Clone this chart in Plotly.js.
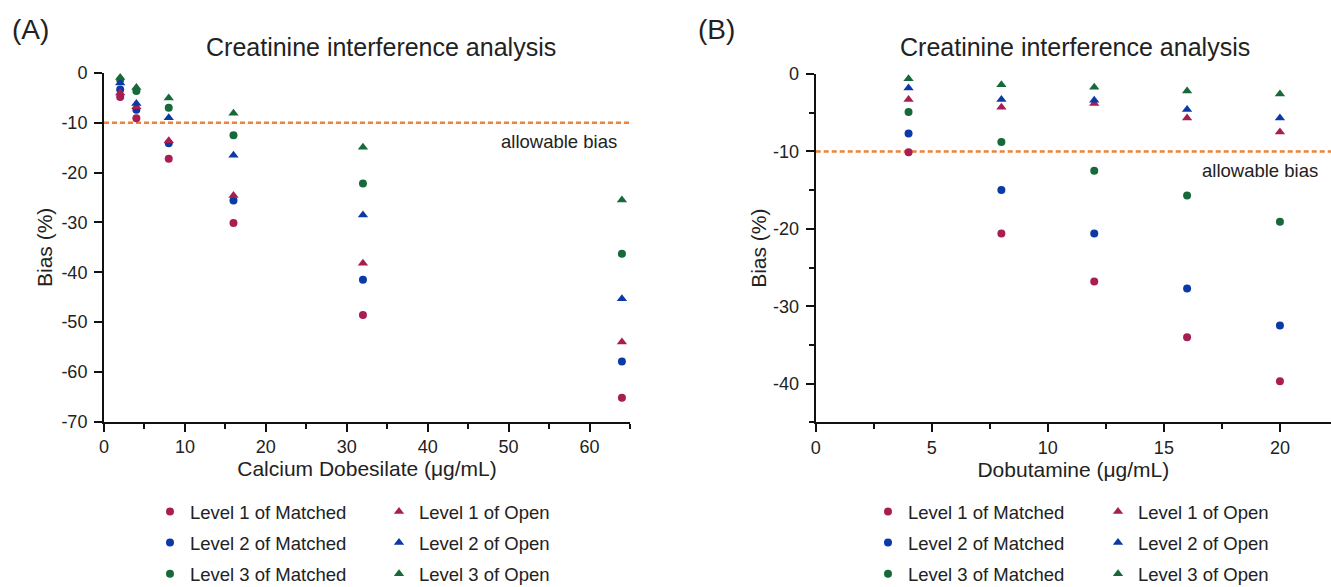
<!DOCTYPE html>
<html>
<head>
<meta charset="utf-8">
<script src="https://cdn.plot.ly/plotly-3.0.1.min.js"></script>
<style>
  html, body { margin: 0; padding: 0; background: #fff; }
  #chart { width: 1331px; height: 587px; }
</style>
</head>
<body>
<div id="chart"></div>
<script>
// ---- Data ----
const allowableBias = [-10];

// Panel A: Calcium Dobesilate (µg/mL)
const concA = [2, 4, 8, 16, 32, 64];
const aLevel1Matched = [-4.8, -9.1, -17.2, -30.1, -48.6, -65.2];
const aLevel2Matched = [-3.3, -7.4, -14.1, -25.6, -41.5, -57.9];
const aLevel3Matched = [-1.4, -3.6, -7.0, -12.5, -22.2, -36.3];
const aLevel1Open    = [-4.0, -6.8, -13.6, -24.6, -38.2, -54.0];
const aLevel2Open    = [-2.0, -6.1, -9.0, -16.5, -28.5, -45.3];
const aLevel3Open    = [-0.9, -2.9, -5.0, -8.1, -14.9, -25.5];

// Panel B: Dobutamine (µg/mL)
const concB = [4, 8, 12, 16, 20];
const bLevel1Matched = [-10.1, -20.6, -26.8, -34.0, -39.7];
const bLevel2Matched = [-7.7, -15.0, -20.6, -27.7, -32.5];
const bLevel3Matched = [-4.9, -8.8, -12.5, -15.7, -19.1];
const bLevel1Open    = [-3.3, -4.3, -3.8, -5.7, -7.5];
const bLevel2Open    = [-1.8, -3.3, -3.4, -4.6, -5.7];
const bLevel3Open    = [-0.6, -1.4, -1.7, -2.2, -2.6];

const seriesNames = ["Level 1 of Matched", "Level 2 of Matched", "Level 3 of Matched",
                     "Level 1 of Open", "Level 2 of Open", "Level 3 of Open"];

// Tick labels (hyphen-minus, as in the reference)
const yTickValsA = [0, -10, -20, -30, -40, -50, -60, -70];
const yTickTextA = ["0", "-10", "-20", "-30", "-40", "-50", "-60", "-70"];
const yTickValsB = [0, -10, -20, -30, -40];
const yTickTextB = ["0", "-10", "-20", "-30", "-40"];
const xTickValsA = [0, 10, 20, 30, 40, 50, 60];
const xTickTextA = ["0", "10", "20", "30", "40", "50", "60"];
const xTickValsB = [0, 5, 10, 15, 20];
const xTickTextB = ["0", "5", "10", "15", "20"];

// ---- Styles ----
const W = 1331, H = 587;
const FONT = '"Liberation Sans", Arial, Helvetica, sans-serif';
const INK = '#222222';
const colors = ['#A81E52', '#0B3AA6', '#17693A'];
const px = v => v / W;
const py = v => (H - v) / H;

function trace(x, y, name, color, symbol, xa, ya, legend, grp) {
  return {
    type: 'scatter', mode: 'markers', x: x, y: y, name: name,
    xaxis: xa, yaxis: ya, legend: legend, legendgroup: grp,
    cliponaxis: false,
    marker: { color: color, symbol: symbol, size: symbol === 'circle' ? 8 : 9, line: { width: 0 } },
    hoverinfo: 'x+y+name'
  };
}

const aMatched = [aLevel1Matched, aLevel2Matched, aLevel3Matched];
const aOpen = [aLevel1Open, aLevel2Open, aLevel3Open];
const bMatched = [bLevel1Matched, bLevel2Matched, bLevel3Matched];
const bOpen = [bLevel1Open, bLevel2Open, bLevel3Open];

const data = [];
for (let i = 0; i < 3; i++) data.push(trace(concA, aMatched[i], seriesNames[i], colors[i], 'circle', 'x', 'y', 'legend', 'am' + i));
for (let i = 0; i < 3; i++) data.push(trace(concA, aOpen[i], seriesNames[3 + i], colors[i], 'triangle-up', 'x', 'y', 'legend2', 'ao' + i));
for (let i = 0; i < 3; i++) data.push(trace(concB, bMatched[i], seriesNames[i], colors[i], 'circle', 'x2', 'y2', 'legend3', 'bm' + i));
for (let i = 0; i < 3; i++) data.push(trace(concB, bOpen[i], seriesNames[3 + i], colors[i], 'triangle-up', 'x2', 'y2', 'legend4', 'bo' + i));

function axis(extra) {
  return Object.assign({
    showline: true, linecolor: '#111', linewidth: 2, mirror: false,
    showgrid: false, zeroline: false,
    ticks: 'outside', ticklen: 8, tickwidth: 2, tickcolor: '#111',
    tickfont: { family: FONT, size: 18, color: INK },
    automargin: false, fixedrange: true
  }, extra);
}
const minorTick = d => ({ dtick: d, tick0: 0, ticks: 'outside', ticklen: 5, tickwidth: 2, tickcolor: '#111', showgrid: false });
const titleFont = { family: FONT, size: 21, color: INK };

const legendBase = {
  orientation: 'v', xanchor: 'left', yanchor: 'top',
  font: { family: FONT, size: 18.5, color: INK },
  bgcolor: 'rgba(0,0,0,0)', borderwidth: 0,
  tracegroupgap: 4, traceorder: 'grouped', itemclick: false, itemdoubleclick: false
};

const layout = {
  width: W, height: H,
  margin: { l: 0, r: 0, t: 0, b: 0, autoexpand: false },
  paper_bgcolor: '#fff', plot_bgcolor: '#fff',
  font: { family: FONT, color: INK },
  showlegend: true,
  xaxis: axis({
    domain: [px(104), px(630)], range: [0, 65], anchor: 'y',
    tickmode: 'array', tickvals: xTickValsA, ticktext: xTickTextA, ticklabelstandoff: 0,
    minor: minorTick(5),
    title: { text: 'Calcium Dobesilate (μg/mL)', font: titleFont, standoff: 4 }
  }),
  yaxis: axis({
    domain: [py(421.7), py(73)], range: [-70, 0], anchor: 'x',
    tickmode: 'array', tickvals: yTickValsA, ticktext: yTickTextA, ticklabelstandoff: 3,
    title: { text: 'Bias (%)', font: titleFont, standoff: 3 }
  }),
  xaxis2: axis({
    domain: [px(815.7), 1], range: [0, 22.2], anchor: 'y2',
    tickmode: 'array', tickvals: xTickValsB, ticktext: xTickTextB, ticklabelstandoff: 0,
    minor: minorTick(2.5),
    title: { text: 'Dobutamine (μg/mL)', font: titleFont, standoff: 4 }
  }),
  yaxis2: axis({
    domain: [py(422.3), py(74)], range: [-45, 0], anchor: 'x2',
    tickmode: 'array', tickvals: yTickValsB, ticktext: yTickTextB, ticklabelstandoff: 3,
    minor: minorTick(5),
    title: { text: 'Bias (%)', font: titleFont, standoff: 1 }
  }),
  legend:  Object.assign({}, legendBase, { x: px(150), y: py(493) }),
  legend2: Object.assign({}, legendBase, { x: px(379), y: py(493) }),
  legend3: Object.assign({}, legendBase, { x: px(868), y: py(493) }),
  legend4: Object.assign({}, legendBase, { x: px(1098), y: py(493) }),
  shapes: [
    { type: 'line', xref: 'x domain', yref: 'y', x0: 0, x1: 1, y0: allowableBias[0], y1: allowableBias[0],
      line: { color: '#F0803A', width: 2.5, dash: '5px,3px' }, layer: 'below' },
    { type: 'line', xref: 'x2 domain', yref: 'y2', x0: 0, x1: 1, y0: allowableBias[0], y1: allowableBias[0],
      line: { color: '#F0803A', width: 2.5, dash: '5px,3px' }, layer: 'below' }
  ],
  annotations: [
    { text: '(A)', xref: 'paper', yref: 'paper', x: px(31), y: py(29), showarrow: false,
      xanchor: 'center', yanchor: 'middle', font: { family: FONT, size: 28, color: INK } },
    { text: '(B)', xref: 'paper', yref: 'paper', x: px(716), y: py(29), showarrow: false,
      xanchor: 'center', yanchor: 'middle', font: { family: FONT, size: 28, color: INK } },
    { text: 'Creatinine interference analysis', xref: 'paper', yref: 'paper', x: px(381), y: py(47), showarrow: false,
      xanchor: 'center', yanchor: 'middle', font: { family: FONT, size: 25, color: INK } },
    { text: 'Creatinine interference analysis', xref: 'paper', yref: 'paper', x: px(1075), y: py(47), showarrow: false,
      xanchor: 'center', yanchor: 'middle', font: { family: FONT, size: 25, color: INK } },
    { text: 'allowable bias', xref: 'paper', yref: 'paper', x: px(559), y: py(142), showarrow: false,
      xanchor: 'center', yanchor: 'middle', font: { family: FONT, size: 18.5, color: INK } },
    { text: 'allowable bias', xref: 'paper', yref: 'paper', x: px(1260), y: py(170), showarrow: false,
      xanchor: 'center', yanchor: 'middle', font: { family: FONT, size: 18.5, color: INK } }
  ]
};

Plotly.newPlot('chart', data, layout, { staticPlot: false, displayModeBar: false, responsive: false });
</script>
</body>
</html>
